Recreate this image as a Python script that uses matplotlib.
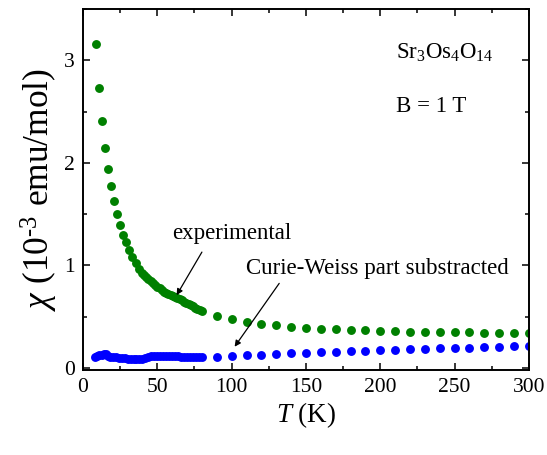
import matplotlib
matplotlib.use("Agg")
import matplotlib.pyplot as plt
from matplotlib.ticker import MultipleLocator

plt.rcParams['font.family'] = ['Liberation Serif', 'DejaVu Serif']
plt.rcParams['mathtext.fontset'] = 'custom'
plt.rcParams['mathtext.rm'] = 'Liberation Serif'
plt.rcParams['mathtext.it'] = 'Liberation Serif:italic'

# experimental susceptibility (green)
T_exp = [8.5, 10.8, 12.8, 14.7, 16.7, 18.6, 20.7, 22.7, 24.7, 26.8, 28.9, 31.0,
         33.2, 35.4, 37.5, 39.5, 41.0, 42.5, 44.0, 45.5, 47.0, 48.5, 50.0, 51.5,
         53.0, 54.5, 56.0, 57.5, 59.0, 60.5, 62.0, 63.5, 65.0, 66.5, 68.0, 69.5,
         71.0, 72.5, 74.0, 75.5, 77.0, 78.5, 80.0,
         90, 100, 110, 120, 130, 140, 150, 160, 170, 180, 190, 200, 210, 220,
         230, 240, 250, 260, 270, 280, 290, 300]
chi_exp = [3.16, 2.73, 2.41, 2.145, 1.94, 1.77, 1.625, 1.50, 1.395, 1.30, 1.225, 1.155,
           1.085, 1.02, 0.97, 0.93, 0.905, 0.885, 0.865, 0.845, 0.825, 0.805, 0.79, 0.775,
           0.76, 0.745, 0.73, 0.72, 0.71, 0.70, 0.69, 0.68, 0.67, 0.66, 0.645, 0.635,
           0.62, 0.61, 0.60, 0.585, 0.575, 0.565, 0.553,
           0.506, 0.474, 0.45, 0.43, 0.415, 0.40, 0.39, 0.383, 0.376, 0.37, 0.366, 0.362,
           0.358, 0.355, 0.352, 0.35, 0.348, 0.346, 0.344, 0.342, 0.34, 0.338]

# Curie-Weiss part subtracted (blue)
T_sub = [8, 9.5, 11, 12.5, 14, 15.5, 17, 18.5, 20, 22, 24, 26, 28, 30, 32, 34, 36,
         38, 40, 42, 44, 46, 48, 50, 52, 54, 56, 58, 60, 62, 64, 66, 68, 70, 72, 74,
         76, 78, 80,
         90, 100, 110, 120, 130, 140, 150, 160, 170, 180, 190, 200, 210, 220,
         230, 240, 250, 260, 270, 280, 290, 300]
chi_sub = [0.105, 0.12, 0.13, 0.128, 0.138, 0.132, 0.12, 0.11, 0.105, 0.102, 0.1, 0.097,
           0.094, 0.09, 0.088, 0.086, 0.086, 0.088, 0.092, 0.1, 0.108, 0.115, 0.118, 0.12,
           0.118, 0.116, 0.115, 0.114, 0.113, 0.112, 0.112, 0.111, 0.111, 0.11, 0.11, 0.11,
           0.11, 0.11, 0.11,
           0.11, 0.117, 0.123, 0.13, 0.136, 0.143, 0.148, 0.153, 0.158, 0.163, 0.168,
           0.173, 0.178, 0.183, 0.187, 0.191, 0.195, 0.199, 0.203, 0.207, 0.211, 0.215]

fig = plt.figure(figsize=(5.47, 4.55), dpi=100)
ax = fig.add_axes([0.1517, 0.1868, 0.8153, 0.7932])

ax.plot(T_exp, chi_exp, 'o', color='#008000', ms=6.4, mec='none')
ax.plot(T_sub, chi_sub, 'o', color='#0000ff', ms=6.4, mec='none')

ax.set_xlim(0, 300)
ax.set_ylim(-0.02, 3.5)
ax.xaxis.set_major_locator(MultipleLocator(50))
ax.xaxis.set_minor_locator(MultipleLocator(25))
ax.yaxis.set_major_locator(MultipleLocator(1))
ax.yaxis.set_minor_locator(MultipleLocator(0.5))
ax.tick_params(which='both', direction='in', top=True, right=True, width=1.1,
               labelsize=15.5, pad=6)
ax.tick_params(which='major', length=5)
ax.tick_params(which='minor', length=3)
for s in ax.spines.values():
    s.set_linewidth(1.4)

ax.set_xlabel(r'$T$ (K)', fontsize=19.5, labelpad=2)
ax.set_ylabel(r'$\chi$ (10$^{\text{-3}}$ emu/mol)', fontsize=25.5, labelpad=3)

arrow = dict(arrowstyle='-|>', color='black', lw=0.9, shrinkA=0, shrinkB=0,
             mutation_scale=9)
ax.text(100, 1.31, 'experimental', fontsize=16.5, ha='center', va='center')
ax.annotate('', xy=(63, 0.71), xytext=(80, 1.13), arrowprops=arrow)
ax.text(198, 0.97, 'Curie-Weiss part substracted', fontsize=16.5,
        ha='center', va='center')
ax.annotate('', xy=(102, 0.207), xytext=(132, 0.825), arrowprops=arrow)

ax.text(0.703, 0.88, r'Sr$_3$Os$_4$O$_{14}$', transform=ax.transAxes,
        fontsize=16.5, ha='left', va='center')
ax.text(0.703, 0.73, 'B = 1 T', transform=ax.transAxes,
        fontsize=16.5, ha='left', va='center')

fig.savefig('out.png', dpi=100)
